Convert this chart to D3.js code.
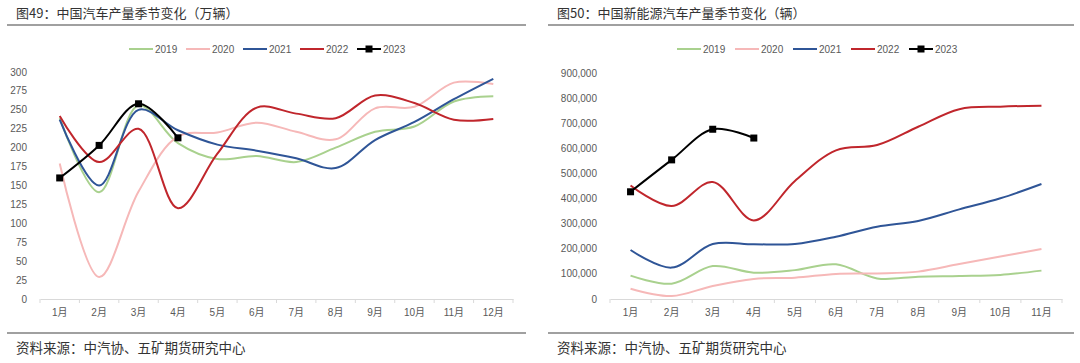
<!DOCTYPE html>
<html>
<head>
<meta charset="utf-8">
<script src="https://cdn.jsdelivr.net/npm/d3@7"></script>
<style>
  html, body { margin: 0; padding: 0; background: #fff; }
  svg { display: block; }
</style>
</head>
<body>
<svg id="chart" width="1080" height="363"></svg>
<script>
// ---- data ----
const years = ["2019", "2020", "2021", "2022", "2023"];
const colors = ["#a9d18e", "#f6b8b8", "#2f5597", "#c0262c", "#000000"];

// 图49 (万辆)
const monthsA = ["1月", "2月", "3月", "4月", "5月", "6月", "7月", "8月", "9月", "10月", "11月", "12月"];
const autoTicks = [0, 25, 50, 75, 100, 125, 150, 175, 200, 225, 250, 275, 300];
const auto2019 = [239, 141, 256, 206, 185, 189, 181, 200, 221, 228, 261, 268];
const auto2020 = [179, 29, 142, 215, 220, 233, 221, 211, 252, 254, 286, 284];
const auto2021 = [237, 150, 250, 223, 204, 196, 186, 173, 210, 234, 264, 291];
const auto2022 = [242, 181, 225, 120, 192, 253, 245, 239, 269, 259, 237, 238];
const auto2023 = [160, 203, 258, 213];

// 图50 (辆)
const monthsB = ["1月", "2月", "3月", "4月", "5月", "6月", "7月", "8月", "9月", "10月", "11月"];
const nevTicks = [0, 100000, 200000, 300000, 400000, 500000, 600000, 700000, 800000, 900000];
const nev2019 = [93000, 61000, 131000, 105000, 115000, 138000, 82000, 89000, 92000, 96000, 113000];
const nev2020 = [41000, 12000, 52000, 80000, 85000, 100000, 102000, 109000, 139000, 169000, 199000];
const nev2021 = [195000, 125000, 219000, 218000, 219000, 248000, 288000, 311000, 357000, 401000, 458000];
const nev2022 = [452000, 370000, 466000, 313000, 470000, 592000, 613000, 686000, 756000, 766000, 770000];
const nev2023 = [427000, 554000, 676000, 641000];

const svg = d3.select("#chart");
const cjk = "'Liberation Sans', 'Noto Sans CJK SC', sans-serif";
const textGray = "#595959";

function drawPanel(cfg) {
  const g = svg.append("g");

  // title and rules
  g.append("text")
    .attr("x", cfg.left + 9).attr("y", 18)
    .attr("font-family", "'Noto Sans CJK SC', sans-serif")
    .attr("font-size", 13).attr("fill", "#333")
    .text(cfg.title);
  g.append("line")
    .attr("x1", cfg.left).attr("x2", cfg.right)
    .attr("y1", 25).attr("y2", 25)
    .attr("stroke", "#808080").attr("stroke-width", 1.5);
  g.append("line")
    .attr("x1", cfg.left).attr("x2", cfg.right)
    .attr("y1", 333).attr("y2", 333)
    .attr("stroke", "#808080").attr("stroke-width", 1.5);
  g.append("text")
    .attr("x", cfg.left + 9).attr("y", 352.5)
    .attr("font-family", "'Noto Sans CJK SC', sans-serif")
    .attr("font-size", 13.5).attr("fill", "#333")
    .text("资料来源：中汽协、五矿期货研究中心");

  const x = d3.scaleBand().domain(cfg.months).range([cfg.x0, cfg.x1]);
  const y = d3.scaleLinear().domain([0, d3.max(cfg.ticks)]).range([299, cfg.yTop]);

  // y labels
  g.append("g")
    .selectAll("text")
    .data(cfg.ticks)
    .join("text")
    .attr("x", cfg.labelX)
    .attr("y", (d) => y(d) + 3.5)
    .attr("text-anchor", "end")
    .attr("font-family", cjk)
    .attr("font-size", 10)
    .attr("fill", textGray)
    .text(cfg.fmt);

  // x axis
  const xAxis = g.append("g")
    .attr("transform", "translate(0,299)")
    .call(d3.axisBottom(x).tickSize(0).tickPadding(10));
  xAxis.select(".domain").attr("stroke", "#d9d9d9");
  xAxis.selectAll("text")
    .attr("font-family", cjk)
    .attr("font-size", 10)
    .attr("fill", textGray);
  xAxis.selectAll(".sep")
    .data(d3.range(cfg.months.length + 1))
    .join("line")
    .attr("class", "sep")
    .attr("x1", (i) => cfg.x0 + i * x.step())
    .attr("x2", (i) => cfg.x0 + i * x.step())
    .attr("y1", 0).attr("y2", 4)
    .attr("stroke", "#d9d9d9");

  const line = d3.line()
    .x((d, i) => x(cfg.months[i]) + x.bandwidth() / 2)
    .y((d) => y(d))
    .curve(d3.curveCatmullRom.alpha(0.5));

  cfg.series.forEach((vals, k) => {
    g.append("path")
      .datum(vals)
      .attr("d", line)
      .attr("fill", "none")
      .attr("stroke", colors[k])
      .attr("stroke-width", 2);
  });

  // 2023 markers
  const last = cfg.series[cfg.series.length - 1];
  g.append("g")
    .selectAll("rect")
    .data(last)
    .join("rect")
    .attr("x", (d, i) => x(cfg.months[i]) + x.bandwidth() / 2 - 3.5)
    .attr("y", (d) => y(d) - 3.5)
    .attr("width", 7).attr("height", 7)
    .attr("fill", "#000");

  // legend
  const leg = g.append("g")
    .selectAll("g")
    .data(years)
    .join("g")
    .attr("transform", (d, i) => `translate(${cfg.legendX + i * cfg.legendStep},49)`);
  leg.append("line")
    .attr("x1", 0).attr("x2", 24)
    .attr("stroke", (d, i) => colors[i])
    .attr("stroke-width", 2);
  leg.filter((d, i) => i === years.length - 1)
    .append("rect")
    .attr("x", 8.5).attr("y", -3.5)
    .attr("width", 7).attr("height", 7)
    .attr("fill", "#000");
  leg.append("text")
    .attr("x", 26).attr("y", 3.5)
    .attr("font-family", cjk)
    .attr("font-size", 10)
    .attr("fill", textGray)
    .text((d) => d);
}

drawPanel({
  title: "图49：中国汽车产量季节变化（万辆）",
  left: 7, right: 526,
  x0: 40, x1: 513, yTop: 72, labelX: 27,
  months: monthsA, ticks: autoTicks,
  fmt: (d) => d,
  series: [auto2019, auto2020, auto2021, auto2022, auto2023],
  legendX: 129, legendStep: 57
});

drawPanel({
  title: "图50：中国新能源汽车产量季节变化（辆）",
  left: 548, right: 1074,
  x0: 610, x1: 1062, yTop: 73, labelX: 597,
  months: monthsB, ticks: nevTicks,
  fmt: d3.format(","),
  series: [nev2019, nev2020, nev2021, nev2022, nev2023],
  legendX: 677, legendStep: 58
});
</script>
</body>
</html>
